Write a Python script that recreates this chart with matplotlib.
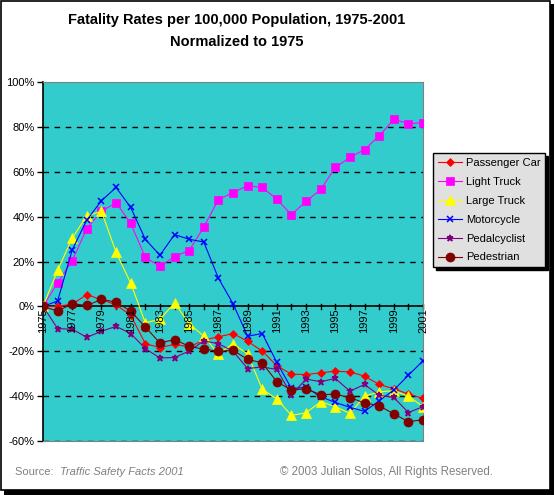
import numpy as np
import matplotlib.pyplot as plt
from matplotlib.patches import Rectangle

years = list(range(1975, 2002))

passenger_car = [0, 0, 1, 5.2, 3, 0.7, -4, -16.6, -18.4, -16.9, -18.1, -15, -13.6, -12.1, -15.6,
                 -19.9, -26.5, -30.2, -30.4, -29.6, -28.9, -29.2, -31.1, -34.8, -36.7, -39.1, -41]
light_truck = [0, 10.5, 20.4, 34.7, 42.4, 46.2, 37.0, 21.9, 17.8, 22.2, 24.9, 35.3, 47.6, 50.7, 53.8,
               53.0, 47.7, 40.9, 46.8, 52.1, 61.9, 66.4, 69.9, 76, 83.3, 81.5, 81.8]
large_truck = [0, 16, 30.5, 40.3, 42.4, 24.1, 10.4, -7.3, -5.8, 1.5, -7.7, -13.3, -21.3, -16.6, -21.3,
               -36.9, -41.3, -48.6, -47.4, -42.5, -44.7, -47.7, -40, -38.1, -37.6, -40, -44.7]
motorcycle = [0, 2.4, 25.2, 38.5, 47.1, 53.0, 44.1, 29.9, 22.8, 32, 29.9, 28.7, 12.6, 1.2, -13.3,
              -12.1, -25, -36.6, -36.1, -40.3, -42.8, -45, -46.8, -42.1, -37.3, -30.7, -24.3]
pedalcyclist = [0, -9.9, -10.2, -13.8, -11.1, -8.9, -12.1, -18.8, -23, -22.8, -19.9, -15.4, -16.6, -20, -27.7,
                -27, -28.1, -39.4, -32.4, -33.6, -32.1, -37.8, -34.8, -39.6, -40.6, -47.3, -44.7]
pedestrian = [0, -2.1, 1.2, 0.4, 3.1, 1.9, -2.1, -9.2, -16.3, -14.8, -17.8, -19.1, -20, -19.6, -23.6,
              -25.2, -33.6, -37.3, -36.7, -39.4, -39.1, -40.7, -43, -44.3, -47.9, -51.4, -50.5]

series = [
    ("Passenger Car", passenger_car, "#FF0000", "D", 4.5),
    ("Light Truck", light_truck, "#FF00FF", "s", 5.5),
    ("Large Truck", large_truck, "#FFFF00", "^", 7),
    ("Motorcycle", motorcycle, "#0000FF", "x", 4.5),
    ("Pedalcyclist", pedalcyclist, "#800080", "*", 5),
    ("Pedestrian", pedestrian, "#800000", "o", 6.5),
]

plt.rcParams['font.family'] = ['Liberation Sans', 'DejaVu Sans']

W, H = 555, 495
fig = plt.figure(figsize=(W / 100, H / 100), dpi=100)

# outer frame with shadow
fig.patches.append(Rectangle((4 / W, 1 - 495 / H), 550 / W, 491 / H, transform=fig.transFigure,
                             facecolor="black", edgecolor="none", zorder=-2))
fig.patches.append(Rectangle((0.5 / W, 1 - 490 / H), 549.5 / W, 489.5 / H, transform=fig.transFigure,
                             facecolor="white", edgecolor="black", linewidth=1.2, zorder=-1))

ax = fig.add_axes([43 / W, 1 - 441 / H, 380 / W, 359 / H])
ax.set_facecolor("#33CCCC")
ax.set_xlim(1975, 2001)
ax.set_ylim(-60, 100)

for name, vals, col, mk, ms in series:
    mew = 1.1 if mk in ("x", "*") else 0.5
    ax.plot(years, vals, color=col, marker=mk, markersize=ms, linewidth=0.8,
            markeredgewidth=mew, markeredgecolor=col, label=name, zorder=3)

# grid
for v in [-60, -40, -20, 20, 40, 60, 80]:
    ax.axhline(v, color="black", linestyle=(0, (4, 4)), linewidth=1, zorder=1)
ax.axhline(0, color="black", linewidth=1.2, zorder=2)

ax.set_yticks(range(-60, 101, 20))
ax.set_yticklabels([f"{v}%" for v in range(-60, 101, 20)], fontsize=8)
ax.tick_params(axis="y", length=4, width=1, pad=2)
ax.set_xticks([])

# year ticks on zero line
for yr in years:
    ax.plot([yr, yr], [-1.2, 1.2], color="black", linewidth=1, zorder=2, clip_on=False)
for yr in years[::2]:
    ax.annotate(str(yr), (yr, 0), xytext=(0, -1.5), textcoords="offset points",
                rotation=90, ha="center", va="top", fontsize=8, zorder=4)

for side in ["top", "right", "bottom"]:
    ax.spines[side].set_color("#808080")
ax.spines["left"].set_color("black")
ax.spines["left"].set_linewidth(1.2)

leg = ax.legend(loc="upper left", bbox_to_anchor=(433 / W, 1 - 153 / H), bbox_transform=fig.transFigure,
                fontsize=8, frameon=True, fancybox=False, shadow={"color": "black", "alpha": 1},
                borderaxespad=0, handlelength=2.2, labelspacing=0.8, borderpad=0.45,
                handletextpad=0.3)
leg.get_frame().set_facecolor("#E0E0E0")
leg.get_frame().set_edgecolor("black")
leg.get_frame().set_alpha(1)

fig.text(237 / W, 1 - 20 / H, "Fatality Rates per 100,000 Population, 1975-2001",
         ha="center", va="center", fontsize=10.5, fontweight="bold")
fig.text(237 / W, 1 - 42 / H, "Normalized to 1975",
         ha="center", va="center", fontsize=10.5, fontweight="bold")

fig.text(15 / W, 1 - 472 / H, "Source: ", ha="left", va="center", fontsize=8, color="#808080")
fig.text(60 / W, 1 - 472 / H, "Traffic Safety Facts 2001", ha="left", va="center", fontsize=8,
         color="#808080", style="italic")
fig.text(493 / W, 1 - 472 / H, "\u00a9 2003 Julian Solos, All Rights Reserved.", ha="right",
         va="center", fontsize=8.3, color="#808080")

fig.savefig("out.png", dpi=100)
